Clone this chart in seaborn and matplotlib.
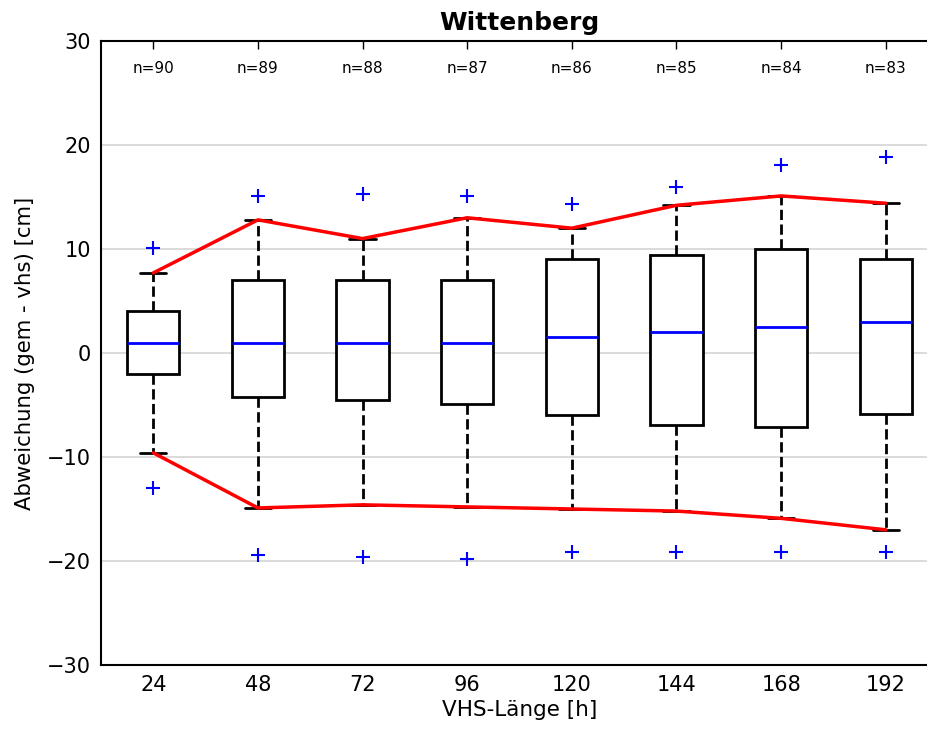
import matplotlib
matplotlib.use("Agg")
import matplotlib.pyplot as plt
import pandas as pd
import seaborn as sns

# VHS-Länge (h) and sample count per lead time
hours = [24, 48, 72, 96, 120, 144, 168, 192]
counts = [90, 89, 88, 87, 86, 85, 84, 83]

# box statistics (cm)
q1 = [-2.0, -4.2, -4.5, -4.9, -6.0, -6.9, -7.1, -5.9]
median = [1.0, 1.0, 1.0, 1.0, 1.5, 2.0, 2.5, 3.0]
q3 = [4.0, 7.0, 7.0, 7.0, 9.0, 9.4, 10.0, 9.0]
whisker_lo = [-9.6, -14.9, -14.6, -14.8, -15.0, -15.2, -15.9, -17.0]
whisker_hi = [7.7, 12.8, 11.0, 13.0, 12.0, 14.2, 15.1, 14.4]
flier_lo = [-13.0, -19.4, -19.6, -19.8, -19.1, -19.1, -19.1, -19.1]
flier_hi = [10.1, 15.1, 15.3, 15.1, 14.3, 16.0, 18.1, 18.8]

# nine points per lead time reproduce the quartiles exactly; whis=(10, 90)
# puts the whiskers on the inner points and leaves the outer ones as fliers
rows = []
for i, h in enumerate(hours):
    for v in [flier_lo[i], whisker_lo[i], q1[i], q1[i], median[i],
              q3[i], q3[i], whisker_hi[i], flier_hi[i]]:
        rows.append({"hours": h, "value": v})
df = pd.DataFrame(rows)

sns.set_style("white")
plt.rcParams["font.family"] = ["DejaVu Sans"]
plt.rcParams["text.color"] = "black"
plt.rcParams["axes.labelcolor"] = "black"
plt.rcParams["xtick.color"] = "black"
plt.rcParams["ytick.color"] = "black"
plt.rcParams["savefig.bbox"] = "standard"

fig = plt.figure(figsize=(9.28, 7.29), dpi=100)
# axes run a little past the right edge, as in the reference crop
ax = fig.add_axes([0.1088, 0.0878, 0.902, 0.856])

sns.boxplot(data=df, x="hours", y="value", native_scale=True, width=0.5,
            whis=(10, 90), color="white", linecolor="black", linewidth=2,
            boxprops=dict(facecolor="white", edgecolor="black", zorder=2),
            medianprops=dict(color="blue", linewidth=2),
            whiskerprops=dict(color="black", linestyle="--", linewidth=2),
            capprops=dict(color="black", linewidth=2),
            flierprops=dict(marker="+", markeredgecolor="blue",
                            markerfacecolor="blue", markersize=10.5,
                            markeredgewidth=1.5),
            ax=ax)

sns.lineplot(x=hours, y=whisker_hi, color="red", linewidth=2.5, ax=ax)
sns.lineplot(x=hours, y=whisker_lo, color="red", linewidth=2.5, ax=ax)

for h, n in zip(hours, counts):
    ax.text(h, 27.4, f"n={n}", ha="center", va="center", fontsize=11)

ax.set_xlim(12, 204)
ax.set_ylim(-30, 30)
ax.set_xticks(hours)
ax.set_xticklabels([str(h) for h in hours])
ax.set_yticks([-30, -20, -10, 0, 10, 20, 30])
ax.yaxis.grid(True, color="#d4d4d4", linewidth=1.2)
ax.set_axisbelow(True)
for s in ax.spines.values():
    s.set_visible(True)
    s.set_color("black")
    s.set_linewidth(1.5)
ax.tick_params(direction="in", top=True, right=True, length=6, width=1,
               labelsize=15, pad=7)
ax.set_xlabel("VHS-Länge [h]", fontsize=15.5, labelpad=4)
ax.set_ylabel("Abweichung (gem - vhs) [cm]", fontsize=15.3, labelpad=9)
ax.set_title("Wittenberg", fontsize=18, fontweight="bold", pad=8)

fig.savefig("out.png", dpi=100)
